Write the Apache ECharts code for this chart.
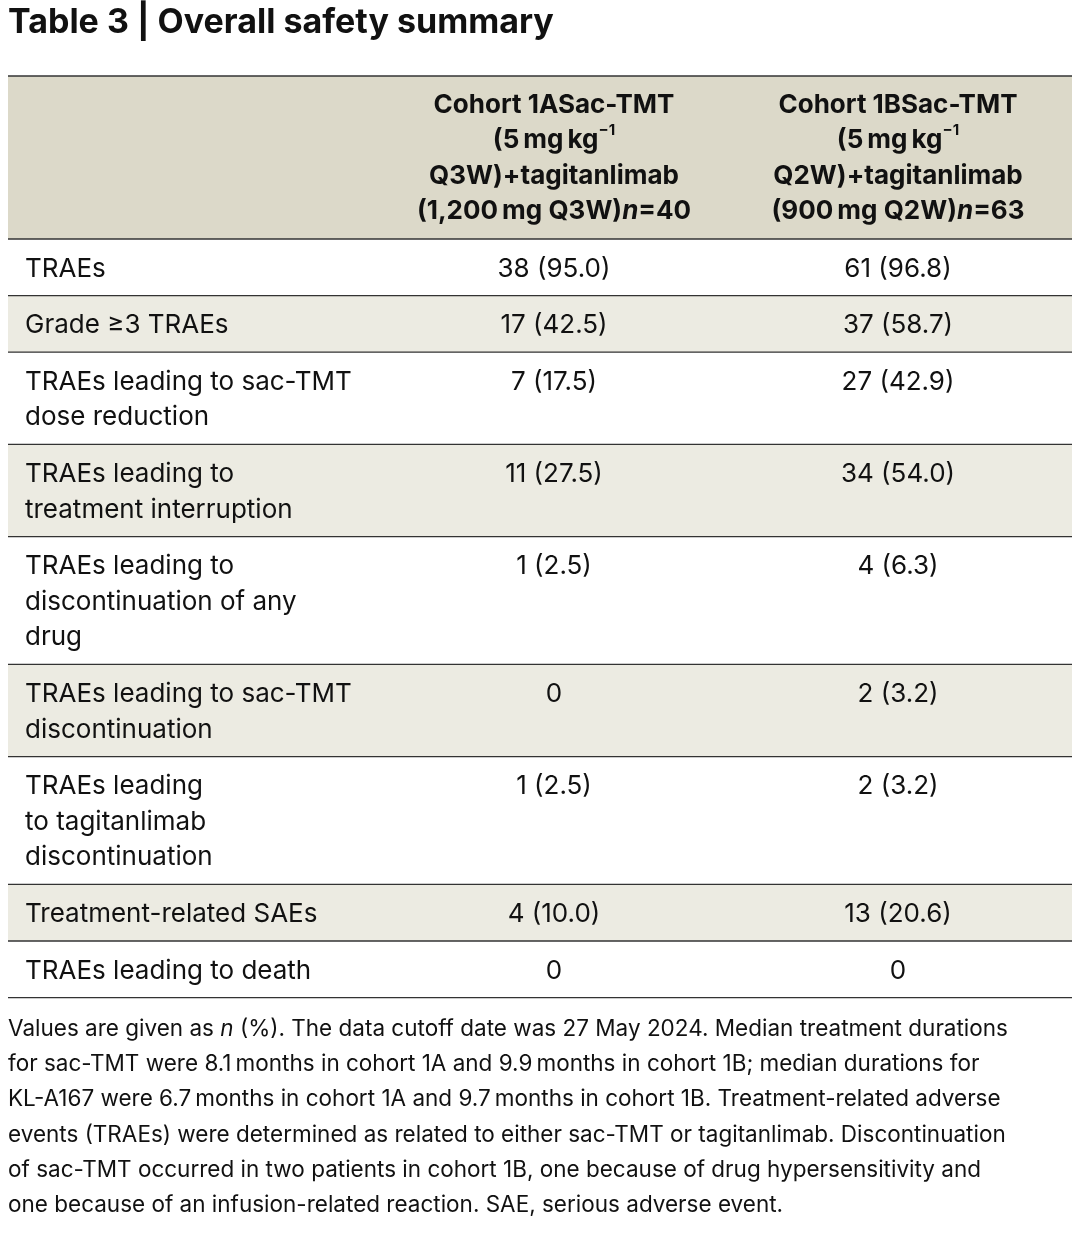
<!DOCTYPE html>
<html><head><meta charset="utf-8">
<script src="https://cdn.jsdelivr.net/npm/echarts@6/dist/echarts.min.js"></script>
<style>html,body{margin:0;background:#fff}#main{width:1072px;height:1234px}</style>
</head><body><div id="main"></div>
<script>
var title = 'Table 3 | Overall safety summary';
var headers = [
  ['Cohort 1ASac-TMT', '(5\u2009mg\u2009kg{s|\u22121}', 'Q3W)+tagitanlimab', '(1,200\u2009mg Q3W){i|n}=40'],
  ['Cohort 1BSac-TMT', '(5\u2009mg\u2009kg{s|\u22121}', 'Q2W)+tagitanlimab', '(900\u2009mg Q2W){i|n}=63']
];
var rowLabels = [
  ['TRAEs'],
  ['Grade \u22653 TRAEs'],
  ['TRAEs leading to sac-TMT', 'dose reduction'],
  ['TRAEs leading to', 'treatment interruption'],
  ['TRAEs leading to', 'discontinuation of any', 'drug'],
  ['TRAEs leading to sac-TMT', 'discontinuation'],
  ['TRAEs leading', 'to tagitanlimab', 'discontinuation'],
  ['Treatment-related SAEs'],
  ['TRAEs leading to death']
];
var cohort1A = ['38 (95.0)', '17 (42.5)', '7 (17.5)', '11 (27.5)', '1 (2.5)', '0', '1 (2.5)', '4 (10.0)', '0'];
var cohort1B = ['61 (96.8)', '37 (58.7)', '27 (42.9)', '34 (54.0)', '4 (6.3)', '2 (3.2)', '2 (3.2)', '13 (20.6)', '0'];
var footnote = [
  'Values are given as {i|n} (%). The data cutoff date was 27 May 2024. Median treatment durations',
  'for sac-TMT were 8.1\u2009months in cohort 1A and 9.9\u2009months in cohort 1B; median durations for',
  'KL-A167 were 6.7\u2009months in cohort 1A and 9.7\u2009months in cohort 1B. Treatment-related adverse',
  'events (TRAEs) were determined as related to either sac-TMT or tagitanlimab. Discontinuation',
  'of sac-TMT occurred in two patients in cohort 1B, one because of drug hypersensitivity and',
  'one because of an infusion-related reaction. SAE, serious adverse event.'
];

var FONT = 'Inter, "Noto Sans", sans-serif';
var LH = 35.6;
var colX = [554, 898];
var g = [];
g.push({type: 'text', left: 8, top: 6, style: {text: title, font: 'bold 34px ' + FONT, fill: '#111'}});

var headTop = 76, headBot = 239;
g.push({type: 'rect', shape: {x: 8, y: headTop, width: 1064, height: headBot - headTop}, style: {fill: '#dcd9c9'}});
headers.forEach(function (h, c) {
  g.push({type: 'text', x: colX[c], y: 87, style: {
    text: h.join('\n'), align: 'center', verticalAlign: 'top', lineHeight: LH,
    font: 'bold 26px ' + FONT, fill: '#111',
    rich: {s: {font: 'bold 15px ' + FONT, verticalAlign: 'top', lineHeight: 20, padding: [0, 0, 14, 0]},
           i: {font: 'italic bold 26px ' + FONT, lineHeight: LH}}
  }});
});

var y = headBot;
var lines = [];
rowLabels.forEach(function (lab, r) {
  var h = 21 + LH * lab.length;
  if (r % 2 === 1) g.push({type: 'rect', shape: {x: 8, y: y, width: 1064, height: h}, style: {fill: '#ecebe2'}});
  g.push({type: 'text', x: 25, y: y + 12, style: {text: lab.join('\n'), lineHeight: LH, font: '26px ' + FONT, fill: '#111'}});
  g.push({type: 'text', x: colX[0], y: y + 12, style: {text: cohort1A[r], align: 'center', lineHeight: LH, font: '26px ' + FONT, fill: '#111'}});
  g.push({type: 'text', x: colX[1], y: y + 12, style: {text: cohort1B[r], align: 'center', lineHeight: LH, font: '26px ' + FONT, fill: '#111'}});
  lines.push(y);
  y += h;
});
lines.push(y);
g.push({type: 'line', shape: {x1: 8, y1: headTop, x2: 1072, y2: headTop}, style: {stroke: '#333', lineWidth: 1.5}});
lines.forEach(function (ly) {
  g.push({type: 'line', shape: {x1: 8, y1: ly, x2: 1072, y2: ly}, style: {stroke: '#333', lineWidth: 1.3}});
});
g.push({type: 'text', x: 8, y: y + 14, style: {
  text: footnote.join('\n'), lineHeight: 35.2, font: '22.5px ' + FONT, fill: '#111',
  rich: {i: {font: 'italic 22.5px ' + FONT, lineHeight: 35.2}}
}});

var chart = echarts.init(document.getElementById('main'), null, {renderer: 'canvas'});
chart.setOption({animation: false, graphic: g});
</script></body></html>
